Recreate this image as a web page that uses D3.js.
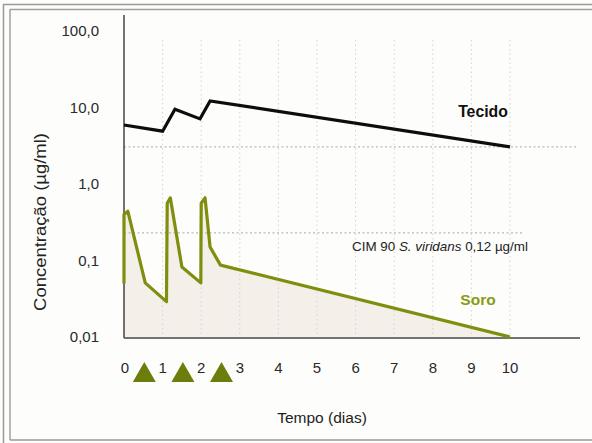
<!DOCTYPE html>
<html><head><meta charset="utf-8">
<script src="https://cdn.jsdelivr.net/npm/d3@7"></script>
<style>body{margin:0;background:#fdfdfb;} svg{display:block;font-family:"Liberation Sans",Arial,sans-serif;}</style>
</head><body>
<svg id="c" width="592" height="443"></svg>
<script>
// ---- data ----
const yTicks = [0.01, 0.1, 1, 10, 100];
const yTickLabels = ["0,01", "0,1", "1,0", "10,0", "100,0"];
const xTicks = [0,1,2,3,4,5,6,7,8,9,10];
const doseDays = [0.5, 1.5, 2.5];
const tecidoDays = [0, 1, 1.32, 1.97, 2.23, 10];
const tecidoVals = [5.9, 4.9, 9.5, 7.1, 12.2, 3.05];
const soroDays = [0, 0, 0.1, 0.55, 1.1, 1.12, 1.2, 1.5, 1.99, 2.0, 2.1, 2.23, 2.5, 10];
const soroVals = [0.05, 0.40, 0.44, 0.051, 0.029, 0.56, 0.66, 0.082, 0.051, 0.56, 0.66, 0.15, 0.087, 0.01];
const refLineVals = [3.05, 0.23];
const cimLabel = "CIM 90 ";

const svg = d3.select("#c");
const x = d3.scaleLinear().domain([0, 10]).range([124, 510]);
const y = d3.scaleLog().domain([0.01, 100]).range([337, 31]);

// frame
svg.append("line").attr("x1",3.5).attr("x2",3.5).attr("y1",4).attr("y2",443).attr("stroke","#9a9a9a").attr("stroke-width",1.5);
svg.append("line").attr("x1",3).attr("x2",592).attr("y1",4.5).attr("y2",4.5).attr("stroke","#9a9a9a").attr("stroke-width",1.5);
svg.append("line").attr("x1",10).attr("x2",10).attr("y1",9).attr("y2",440).attr("stroke","#a0a0a0").attr("stroke-width",1.5);
svg.append("line").attr("x1",10).attr("x2",592).attr("y1",9.5).attr("y2",9.5).attr("stroke","#a0a0a0").attr("stroke-width",1.5);
svg.append("line").attr("x1",10).attr("x2",592).attr("y1",440).attr("y2",440).attr("stroke","#999").attr("stroke-width",1.5);

// fill under soro
const soro = soroDays.map((d,i)=>[d, soroVals[i]]);
svg.append("path").datum(soro)
  .attr("d", d3.area().x(d=>x(d[0])).y0(y(0.01)).y1(d=>y(d[1])))
  .attr("fill","#f5efea");

// vertical dotted grid
svg.selectAll(".vg").data(xTicks.filter(d=>d>0)).join("line")
  .attr("x1",d=>x(d)).attr("x2",d=>x(d)).attr("y1",40).attr("y2",y(0.01))
  .attr("stroke","#d2d2d2").attr("stroke-width",1).attr("stroke-dasharray","1.5,3");

// horizontal reference dotted lines
svg.append("line").attr("x1",124).attr("x2",577).attr("y1",y(refLineVals[0])).attr("y2",y(refLineVals[0]))
  .attr("stroke","#b8b8b8").attr("stroke-width",1.2).attr("stroke-dasharray","2,2.5");
svg.append("line").attr("x1",124).attr("x2",522).attr("y1",y(refLineVals[1])).attr("y2",y(refLineVals[1]))
  .attr("stroke","#b8b8b8").attr("stroke-width",1.2).attr("stroke-dasharray","2,2.5");

// axes lines
svg.append("line").attr("x1",124).attr("x2",124).attr("y1",15).attr("y2",338).attr("stroke","#444").attr("stroke-width",1.5);
svg.append("line").attr("x1",124).attr("x2",580).attr("y1",338).attr("y2",338).attr("stroke","#444").attr("stroke-width",1.6);

// y tick labels
svg.selectAll(".yt").data(yTicks).join("text")
  .attr("x",99).attr("y",d=>y(d)).attr("dy","0.35em").attr("text-anchor","end")
  .attr("font-size",15).attr("fill","#2a2a2a")
  .text((d,i)=>yTickLabels[i]);

// x tick labels
svg.selectAll(".xt").data(xTicks).join("text")
  .attr("x",d=>x(d)+(d===0?1:0)).attr("y",373).attr("text-anchor","middle")
  .attr("font-size",15).attr("fill","#2a2a2a").text(d=>d);

// dose triangles
svg.selectAll(".tri").data(doseDays).join("path")
  .attr("d", d=>{const cx=x(d)+1; return `M${cx-11.5},382 L${cx},362 L${cx+11.5},382 Z`;})
  .attr("fill","#6d7d0c");

// lines
const tecido = tecidoDays.map((d,i)=>[d, tecidoVals[i]]);
const line = d3.line().x(d=>x(d[0])).y(d=>y(d[1]));
svg.append("path").datum(soro).attr("d",line).attr("fill","none")
  .attr("stroke","#7f8e0e").attr("stroke-width",3.2).attr("stroke-linejoin","round");
svg.append("path").datum(tecido).attr("d",line).attr("fill","none")
  .attr("stroke","#0d0d0d").attr("stroke-width",3.2).attr("stroke-linejoin","miter");

// labels
svg.append("text").attr("x",483).attr("y",117).attr("text-anchor","middle")
  .attr("font-size",15.8).attr("font-weight","bold").attr("fill","#111").text("Tecido");
svg.append("text").attr("x",478).attr("y",305).attr("text-anchor","middle")
  .attr("font-size",15.5).attr("font-weight","bold").attr("fill","#8a9a14").text("Soro");
const cim = svg.append("text").attr("x",352).attr("y",251).attr("font-size",13.4).attr("fill","#222");
cim.append("tspan").text(cimLabel);
cim.append("tspan").attr("font-style","italic").text("S. viridans");
cim.append("tspan").text(" 0,12 µg/ml");

svg.append("text").attr("x",322).attr("y",423).attr("text-anchor","middle")
  .attr("font-size",15.5).attr("fill","#222").text("Tempo (dias)");
svg.append("text").attr("transform","translate(46,222) rotate(-90) scale(1.12,1)").attr("text-anchor","middle")
  .attr("font-size",16.5).attr("fill","#222").text("Concentração (µg/ml)");
</script>
</body></html>
